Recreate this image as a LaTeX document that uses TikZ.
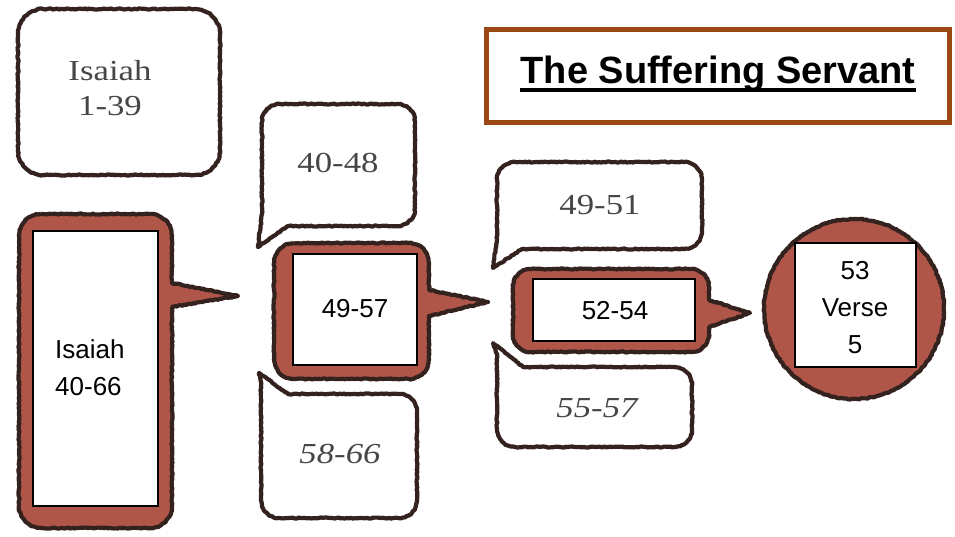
\documentclass[tikz,border=0pt]{standalone}
\usepackage{fontspec}
\setmainfont{Liberation Sans}
\newfontfamily\papy{Liberation Serif}[FakeStretch=1.2]
\usetikzlibrary{decorations.pathmorphing}
\definecolor{redfill}{RGB}{176,86,73}
\definecolor{edge}{RGB}{52,34,30}
\definecolor{titleedge}{RGB}{155,72,18}
\definecolor{greytext}{RGB}{70,70,70}
% rounded rectangle: x1 y1 x2 y2 r
\newcommand\rrect[5]{(#1+#5,#2) -- (#3-#5,#2) arc[start angle=-90,end angle=0,radius=#5] -- (#3,#4-#5) arc[start angle=0,end angle=90,radius=#5] -- (#1+#5,#4) arc[start angle=90,end angle=180,radius=#5] -- (#1,#2+#5) arc[start angle=180,end angle=270,radius=#5] -- cycle}
% right-pointing callout: x1 y1 x2 y2 r ptop pbot tipx tipy
\newcommand\calloutR[9]{(#1+#5,#2) -- (#3-#5,#2) arc[start angle=-90,end angle=0,radius=#5] -- (#3,#6) -- (#8,#9) -- (#3,#7) -- (#3,#4-#5) arc[start angle=0,end angle=90,radius=#5] -- (#1+#5,#4) arc[start angle=90,end angle=180,radius=#5] -- (#1,#2+#5) arc[start angle=180,end angle=270,radius=#5] -- cycle}
% bottom-left pointer callout: x1 y1 x2 y2 r bx tipx tipy ly
\newcommand\calloutBL[9]{(#1,#2+#5) arc[start angle=180,end angle=270,radius=#5] -- (#3-#5,#2) arc[start angle=-90,end angle=0,radius=#5] -- (#3,#4-#5) arc[start angle=0,end angle=90,radius=#5] -- (#6,#4) -- (#7,#8) -- (#1,#9) -- cycle}
% top-left pointer callout: x1 y1 x2 y2 r tx tipx tipy ly
\newcommand\calloutTL[9]{(#1,#9) -- (#7,#8) -- (#6,#2) -- (#3-#5,#2) arc[start angle=-90,end angle=0,radius=#5] -- (#3,#4-#5) arc[start angle=0,end angle=90,radius=#5] -- (#1+#5,#4) arc[start angle=90,end angle=180,radius=#5] -- cycle}
\tikzset{
  rough/.style={decorate,decoration={random steps,segment length=2pt,amplitude=0.55pt}},
  bubble/.style={draw=edge,line width=4.2pt,line join=round,fill=white,rough},
  redbubble/.style={bubble,fill=redfill},
  innerbox/.style={draw=black,line width=2.4pt,fill=white},
  comic/.style={font=\fontsize{26}{37}\selectfont,text=black,inner sep=0pt},
  papytext/.style={font=\papy\fontsize{29}{35}\selectfont,text=greytext,inner sep=0pt},
  papyit/.style={font=\papy\itshape\fontsize{29}{35}\selectfont,text=greytext,inner sep=0pt}
}
\begin{document}
\begin{tikzpicture}[x=1pt,y=-1pt]
\useasboundingbox (0,0) rectangle (955,536);
\fill[white] (0,0) rectangle (955,536);

% Isaiah 1-39
\draw[bubble] \rrect{18}{9}{220}{175}{25};
\node[papytext,align=center] (isa139) at (110,88) {Isaiah\\1-39};

% Isaiah 40-66
\draw[redbubble] \calloutR{19}{214}{172}{528}{22}{283}{307}{238}{296};
\draw[innerbox] (33,231) rectangle (158,506);
\node[comic,align=left,anchor=west] (isa4066) at (55,368) {Isaiah\\40-66};

% 40-48
\draw[bubble] \calloutBL{262}{104}{415}{226}{18}{288}{258}{247}{214};
\node[papytext] (c4048) at (338,163) {40-48};

% 49-57
\draw[redbubble] \calloutR{274}{243}{429}{379}{20}{290}{316}{488}{302};
\draw[innerbox] (293,254) rectangle (417,365);
\node[comic] (c4957) at (355,309) {49-57};

% 58-66
\draw[bubble] \calloutTL{261}{394}{417}{518}{18}{288}{259}{373}{382};
\node[papyit] (c5866) at (340,454) {58-66};

% 49-51
\draw[bubble] \calloutBL{497}{162}{702}{249}{18}{522}{493}{268}{239};
\node[papytext] (c4951) at (600,205) {49-51};

% 52-54
\draw[redbubble] \calloutR{513}{269}{709}{352}{18}{300}{327}{750}{313};
\draw[innerbox] (533,279) rectangle (695,341);
\node[comic] (c5254) at (615,311) {52-54};

% 55-57
\draw[bubble] \calloutTL{497}{367}{692}{447}{18}{523}{493}{343}{354};
\node[papyit] (c5557) at (597,408) {55-57};

% 53 Verse 5
\draw[redbubble] (854,309) circle[radius=90];
\draw[innerbox] (795,243) rectangle (916,367);
\node[comic,align=center] (v53) at (855,308) {53\\Verse\\5};

% title
\draw[draw=titleedge,line width=5pt,fill=white] (486,29) rectangle (949,122);
\node[font=\bfseries\fontsize{38}{40}\selectfont,inner sep=0pt,anchor=base] (title) at (718,83) {The Suffering Servant};
\draw[line width=4pt] ([yshift=-7pt]title.base west) -- ([yshift=-7pt]title.base east);
\end{tikzpicture}
\end{document}
